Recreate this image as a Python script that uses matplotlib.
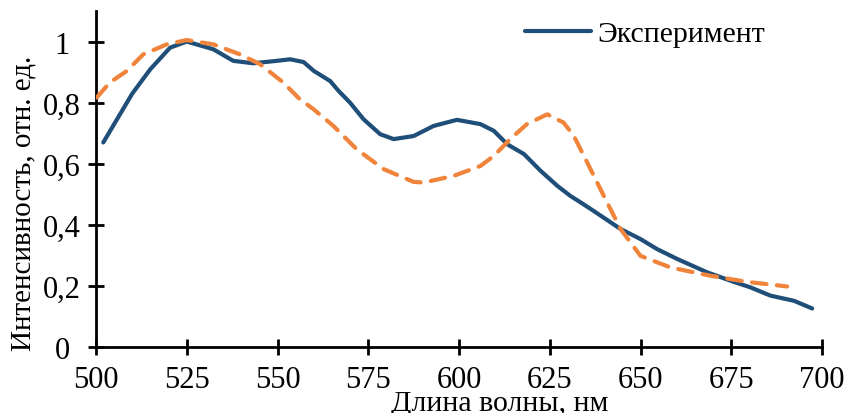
import matplotlib
matplotlib.use("Agg")
import matplotlib.pyplot as plt
from matplotlib.ticker import FuncFormatter

plt.rcParams['font.family'] = ['Liberation Serif', 'DejaVu Serif']

exp_x = [502, 506, 510, 515, 520.4, 525, 532.3, 537.8, 543.3, 549.8, 553.5, 557.2, 560,
         564.5, 566.8, 570, 573.7, 578.3, 582, 587.5, 593, 599.4, 605.9, 609.6, 613.3,
         617.9, 622.5, 627.1, 630.7, 633.5, 637.1, 644.5, 650, 654.6, 660.1, 668.4,
         675.7, 680.3, 685.8, 692.3, 697.3]
exp_y = [0.67, 0.75, 0.83, 0.91, 0.98, 1.0, 0.975, 0.937, 0.929, 0.937, 0.942, 0.933, 0.904,
         0.871, 0.839, 0.80, 0.746, 0.697, 0.681, 0.691, 0.724, 0.744, 0.730, 0.708, 0.664,
         0.632, 0.577, 0.528, 0.495, 0.474, 0.446, 0.387, 0.354, 0.321, 0.289, 0.245,
         0.214, 0.196, 0.169, 0.152, 0.127]

calc_x = [500.2, 503.8, 508.5, 513, 519.5, 525, 532.3, 539.7, 545.2, 551.6, 556.2, 559.9,
          565.4, 571.8, 579.2, 587.5, 590.3, 598.6, 605.9, 609.6, 614.1, 618.7, 624.3,
          628.8, 631.6, 635.3, 639.9, 644.5, 650, 658.3, 669.3, 679.4, 690.4]
calc_y = [0.817, 0.866, 0.904, 0.958, 0.991, 1.005, 0.991, 0.958, 0.926, 0.866, 0.811, 0.779,
          0.724, 0.648, 0.583, 0.541, 0.539, 0.561, 0.593, 0.626, 0.681, 0.730, 0.762,
          0.735, 0.692, 0.605, 0.495, 0.387, 0.299, 0.261, 0.234, 0.214, 0.199]

x_ticks = [500, 525, 550, 575, 600, 625, 650, 675, 700]
y_ticks = [0, 0.2, 0.4, 0.6, 0.8, 1.0]

fig = plt.figure(figsize=(8.48, 4.14), dpi=100)
ax = fig.add_axes([96/848, 1-348.3/414, (822-96)/848, (348.3-12)/414])

ax.plot(calc_x, calc_y, color='#F0843A', lw=3.0, dashes=(3.5, 2.5), solid_capstyle='round',
        dash_capstyle='round', zorder=3)
ax.plot(exp_x, exp_y, color='#1F4E79', lw=3.0, label='Эксперимент', zorder=2,
        solid_capstyle='round')

ax.set_xlim(500, 700)
ax.set_ylim(0, 1.1)
ax.set_xticks(x_ticks)
ax.set_yticks(y_ticks)
ax.yaxis.set_major_formatter(FuncFormatter(lambda v, p: ('%g' % round(v, 1)).replace('.', ',')))
for s in ['top', 'right']:
    ax.spines[s].set_visible(False)
for s in ['left', 'bottom']:
    ax.spines[s].set_linewidth(2.0)
ax.tick_params(direction='inout', length=12, width=2.0, labelsize=22, color='black')
ax.tick_params(axis='y', pad=18.5)
ax.tick_params(axis='x', pad=7)
for lab in ax.get_yticklabels():
    lab.set_horizontalalignment('center')

leg = ax.legend(loc='center left', bbox_to_anchor=(525/848, 1-35/414),
                bbox_transform=fig.transFigure, frameon=False, fontsize=21.5,
                handlelength=2.2, handletextpad=0.23, borderaxespad=0, borderpad=0)

fig.text(24/848, 1-203/414, 'Интенсивность, отн. ед.', rotation=90, ha='center', va='center',
         fontsize=21)
fig.text(500/848, 1-411/414, 'Длина волны, нм', ha='center', va='baseline', fontsize=21.5)

fig.savefig('out.png', dpi=100)
